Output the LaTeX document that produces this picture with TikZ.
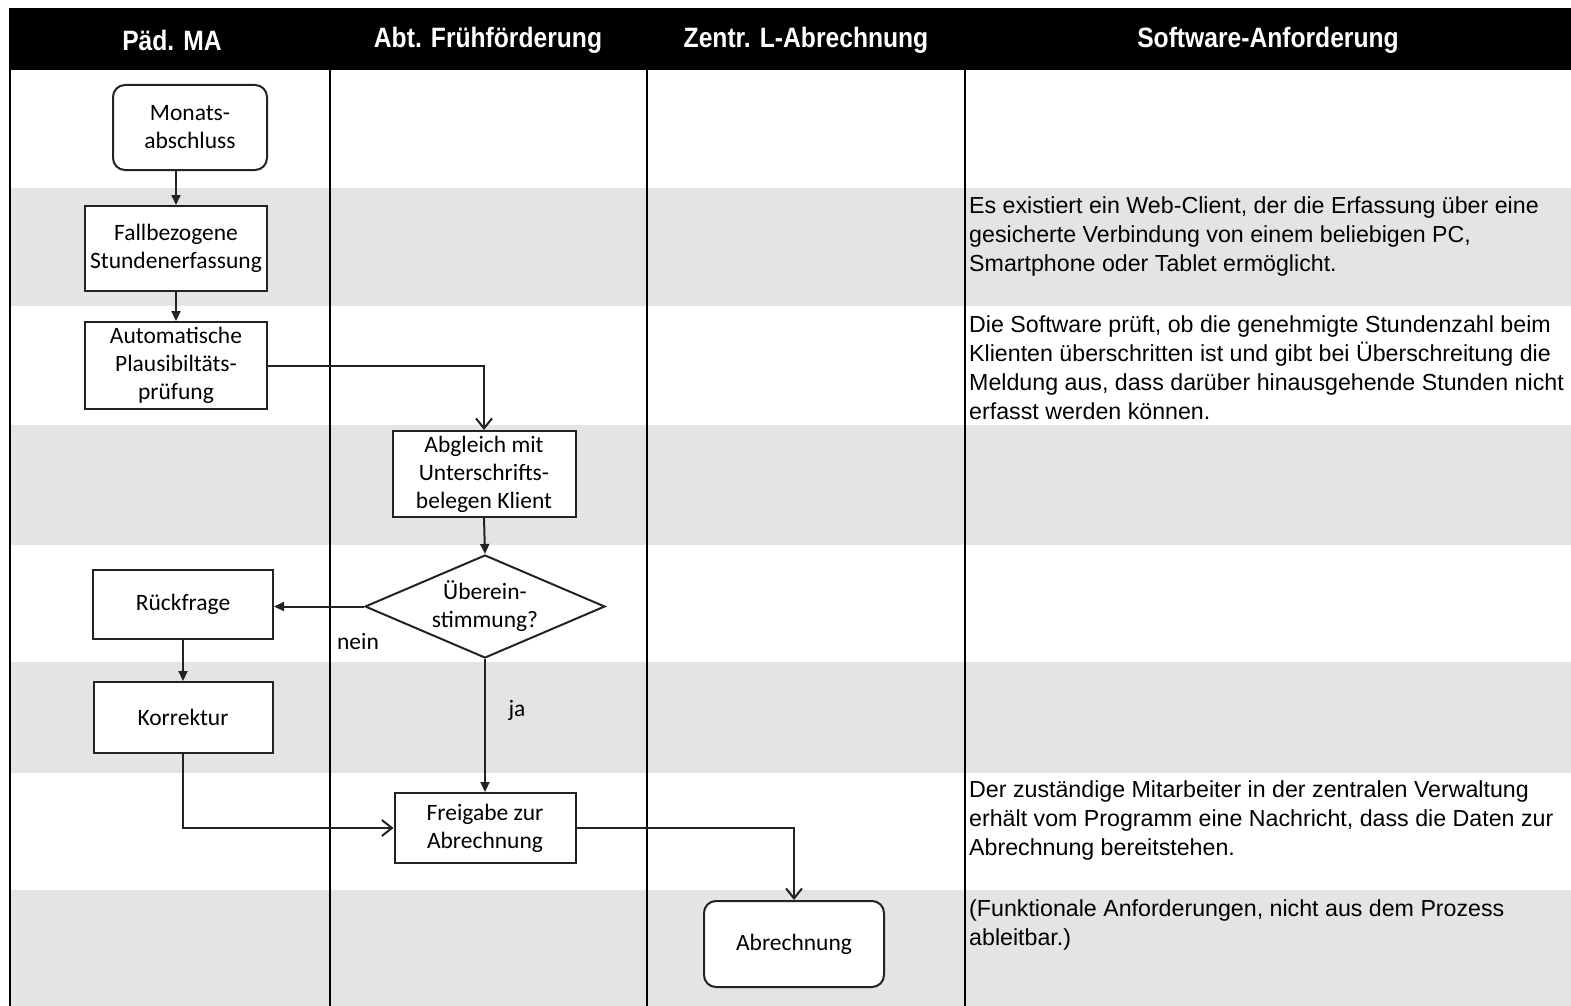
\documentclass[tikz,border=0pt]{standalone}
\usepackage{fontspec}
\setmainfont{Carlito}
\newfontfamily\reqfont{Liberation Sans}
\newfontfamily\headfont[FakeStretch=0.88]{Liberation Sans Bold}
\usetikzlibrary{shapes.geometric,arrows.meta}
\definecolor{band}{RGB}{228,228,228}
\definecolor{boxline}{RGB}{35,35,35}

\begin{document}
\begin{tikzpicture}[x=1pt,y=-1pt,
  proc/.style={draw=boxline,line width=2pt,fill=white,align=center,inner sep=0pt,
               font=\fontsize{23.5}{28}\selectfont},
  terminal/.style={proc,rounded corners=12pt},
  decision/.style={proc,diamond,aspect=2.33,fill=white},
  headlabel/.style={text=white,font=\headfont\fontsize{28}{30}\selectfont,inner sep=0pt},
  reqtext/.style={anchor=north west,align=left,inner sep=0pt,
                  font=\reqfont\fontsize{23.2}{29}\selectfont},
  flowlabel/.style={inner sep=0pt,font=\fontsize{23.5}{26}\selectfont},
  lane/.style={line width=2pt,black},
  solidflow/.style={line width=2pt,draw=boxline,-{Triangle[length=10pt,width=9pt]}},
  openflow/.style={line width=2pt,draw=boxline,-{Straight Barb[length=10pt,width=16pt,line width=2pt]}}]

\useasboundingbox (0,0) rectangle (1571,1006);

% alternating row bands
\foreach \top/\bot in {188/306,425/545,662/773,890/1006}
  \fill[band] (10,\top) rectangle (1571,\bot);

% header bar
\fill[black] (10,8) rectangle (1571,70);
\node[headlabel] (hPaed) at (172,40) {Päd. MA};
\node[headlabel] (hAbt)  at (488,40) {Abt. Frühförderung};
\node[headlabel] (hZen)  at (806,40) {Zentr. L-Abrechnung};
\node[headlabel] (hSoft) at (1268,40) {Software-Anforderung};

% lane separators
\draw[lane,line width=2.4pt] (10,8) -- (10,1006);
\draw[lane] (330,70) -- (330,1006);
\draw[lane,line width=2.8pt] (647,70) -- (647,1006);
\draw[lane] (965,70) -- (965,1006);

% process nodes
\node[terminal,minimum width=154pt,minimum height=85pt] (mon) at (190,127.5) {Monats-\\abschluss};
\node[proc,minimum width=182pt,minimum height=85pt] (fall) at (176,248.5) {Fallbezogene\\Stundenerfassung};
\node[proc,minimum width=182pt,minimum height=87pt] (auto) at (176,365.5) {Automatische\\Plausibiltäts-\\prüfung};
\node[proc,minimum width=183pt,minimum height=86pt] (abg) at (484,474) {Abgleich mit\\Unterschrifts-\\belegen Klient};
\node[decision,minimum width=240pt,minimum height=103pt] (dia) at (485,606.5) {Überein-\\stimmung?};
\node[proc,minimum width=180pt,minimum height=69pt] (rueck) at (183,604) {Rückfrage};
\node[proc,minimum width=179pt,minimum height=71pt] (korr) at (183,717.5) {Korrektur};
\node[proc,minimum width=181pt,minimum height=70pt] (frei) at (485,828) {Freigabe zur\\Abrechnung};
\node[terminal,minimum width=180pt,minimum height=86pt] (abr) at (794,944) {Abrechnung};

% connectors
\draw[solidflow] (fall.north |- mon.south) -- (fall.north);
\draw[solidflow] (auto.north |- fall.south) -- (auto.north);
\draw[openflow] (auto.east) -| (abg.north);
\draw[solidflow] (abg.south) -- (dia.north);
\draw[solidflow] (dia.west) -- (dia.west -| rueck.east);
\draw[solidflow] (dia.south) -- (frei.north);
\draw[solidflow] (rueck.south) -- (korr.north);
\draw[openflow] (korr.south) |- (frei.west);
\draw[openflow] (frei.east) -| (abr.north);

\node[flowlabel] (nein) at (358,641) {nein};
\node[flowlabel] (ja) at (517,710) {ja};

% software requirements
\node[reqtext] (req1) at (969,196) {Es existiert ein Web-Client, der die Erfassung über eine\\gesicherte Verbindung von einem beliebigen PC,\\Smartphone oder Tablet ermöglicht.};
\node[reqtext] (req2) at (969,315) {Die Software prüft, ob die genehmigte Stundenzahl beim\\Klienten überschritten ist und gibt bei Überschreitung die\\Meldung aus, dass darüber hinausgehende Stunden nicht\\erfasst werden können.};
\node[reqtext] (req3) at (969,780) {Der zuständige Mitarbeiter in der zentralen Verwaltung\\erhält vom Programm eine Nachricht, dass die Daten zur\\Abrechnung bereitstehen.};
\node[reqtext] (req4) at (969,899) {(Funktionale Anforderungen, nicht aus dem Prozess\\ableitbar.)};
\end{tikzpicture}
\end{document}
